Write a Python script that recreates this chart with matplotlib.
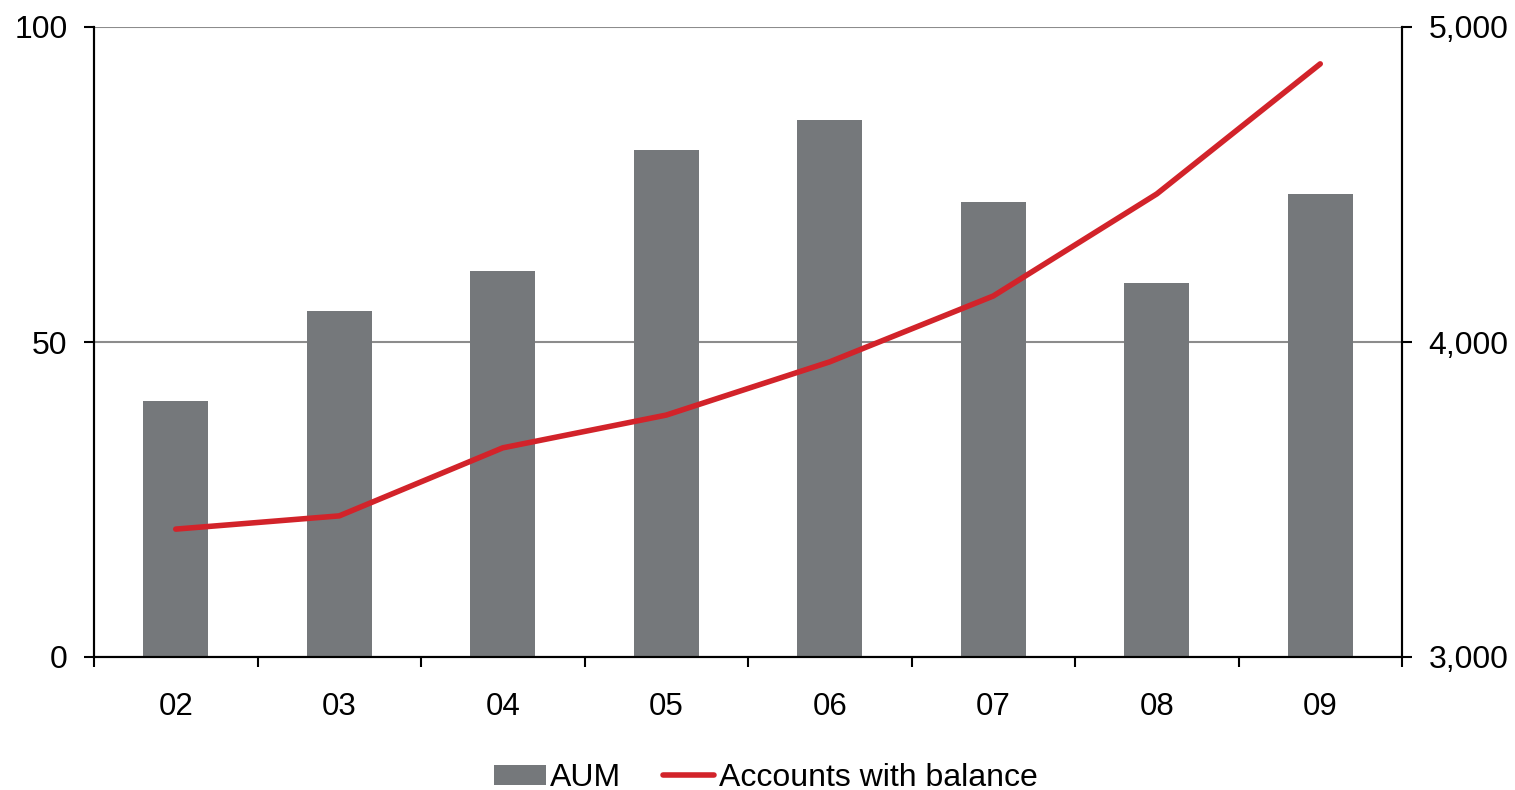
import numpy as np
import matplotlib.pyplot as plt

plt.rcParams['font.family'] = ['Liberation Sans', 'DejaVu Sans']

# data
years = ['02', '03', '04', '05', '06', '07', '08', '09']
aum = [40.6, 54.9, 61.3, 80.5, 85.2, 72.2, 59.4, 73.5]
accounts = [3406, 3448, 3664, 3768, 3937, 4146, 4470, 4883]

x = np.arange(len(years))

fig = plt.figure(figsize=(15.15, 7.9), dpi=100)
ax1 = fig.add_axes([94/1515, 1 - 657/790, (1402-94)/1515, (657-27)/790])
ax2 = ax1.twinx()

bars = ax1.bar(x, aum, width=0.4, color='#75787b', label='AUM', zorder=2)
line, = ax2.plot(x, accounts, color='#d2232a', linewidth=4,
                 solid_capstyle='round', label='Accounts with balance', zorder=3)

ax1.set_xlim(-0.5, len(years) - 0.5)
ax1.set_ylim(0, 100)
ax2.set_ylim(3000, 5000)
ax1.set_yticks([0, 50, 100])
ax2.set_yticks([3000, 4000, 5000])
ax2.set_yticklabels(['3,000', '4,000', '5,000'])

# ticks between categories, labels centred
ax1.set_xticks(np.arange(-0.5, len(years), 1.0))
ax1.set_xticklabels([])
ax1.set_xticks(x, minor=True)
ax1.set_xticklabels(years, minor=True)
ax1.tick_params(axis='x', which='minor', length=0, pad=25, labelsize=22.5)
ax1.tick_params(axis='x', which='major', length=7, width=1.5, direction='out')
ax1.tick_params(axis='y', length=7, width=1.5, direction='out', labelsize=23, pad=12)
ax2.tick_params(axis='y', length=7, width=1.5, direction='out', labelsize=23, pad=12)

ax1.yaxis.grid(True, color='#8c8c8c', linewidth=1.5, zorder=0)
ax1.set_axisbelow(True)

for a in (ax1, ax2):
    a.spines['top'].set_visible(False)
    for s in ('left', 'right', 'bottom'):
        a.spines[s].set_linewidth(1.5)
ax1.set_zorder(ax2.get_zorder() - 1)
ax2.patch.set_visible(False)
ax1.patch.set_visible(True)

fig.legend([bars, line], ['AUM', 'Accounts with balance'], loc='center',
           bbox_to_anchor=(766/1515, 1 - 778/790), ncol=2, frameon=False,
           fontsize=23, handlelength=1.6, handleheight=0.6,
           handletextpad=0.15, columnspacing=1.3)

fig.savefig('out.png', dpi=100)
